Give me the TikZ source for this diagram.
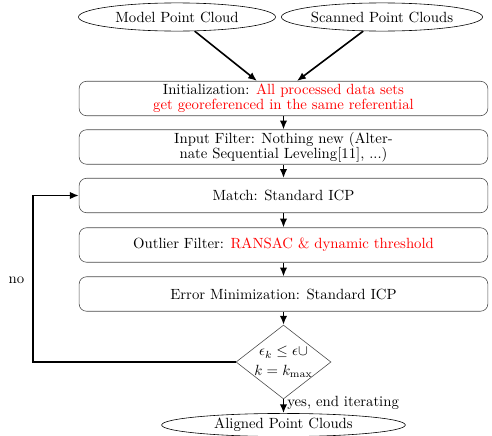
\documentclass[tikz,border=0pt]{standalone}
\usetikzlibrary{shapes.geometric,positioning,arrows.meta}
\tikzset{
  io/.style={draw, ellipse, inner sep=0pt, minimum width=4.69cm, minimum height=0.67cm},
  stage/.style={draw=black!70, rounded corners=5pt, minimum width=9.73cm, minimum height=0.82cm,
    inner ysep=1pt, align=center, font=\fontsize{10}{10}\selectfont},
  test/.style={draw=black!70, diamond, inner sep=-4pt, minimum width=2.26cm, minimum height=1.76cm,
    align=center, font=\fontsize{10}{13}\selectfont},
  flow/.style={line width=1.1pt, -{Latex[length=6pt,width=5pt]}},
}
\begin{document}
\begin{tikzpicture}[x=0.0238cm, y=-0.0238cm]
      \useasboundingbox (0,0) rectangle (492,436);
      %
      \node[io] (model) at (177,17) {Model Point Cloud};
      \node[io] (scan) at (382,17) {Scanned Point Clouds};
      %
      \node[stage] (init) at (283.5,98.5) {Initialization: \textcolor{red}{All processed data sets}\\\textcolor{red}{get georeferenced in the same referential}};
      \node[stage] (input) at (283.5,147) {Input Filter: Nothing new (Alter-\\nate Sequential Leveling[11], ...)};
      \node[stage] (match) at (283.5,195.5) {Match: Standard ICP};
      \node[stage] (outlier) at (283.5,245) {Outlier Filter: \textcolor{red}{RANSAC \& dynamic threshold}};
      \node[stage] (errmin) at (283.5,294) {Error Minimization: Standard ICP};
      %%
      \node[test] (conv) at (283.5,362) {$\epsilon_k \leq \epsilon \cup$\\$k = k_{\max}$};
      \node[io, minimum width=5.8cm, minimum height=0.55cm] (aligned) at (283.5,425) {Aligned Point Clouds};
      %
      \draw[flow] (model) -- (init.north -| 257,0);
      \draw[flow] (scan) -- (init.north -| 297,0);
      \draw[flow] (init) -- (input);
      \draw[flow] (input) -- (match);
      \draw[flow] (match) -- (outlier);
      \draw[flow] (outlier) -- (errmin);
      \draw[flow] (errmin) -- (conv);
      \draw[flow] (conv) -- node[right, pos=0.25, inner sep=2pt] {yes, end iterating} (aligned);
      \draw[flow] (conv.west) -| (33,280) node[left=2pt] {no} |- (match.west);
      %
    \end{tikzpicture}
\end{document}
